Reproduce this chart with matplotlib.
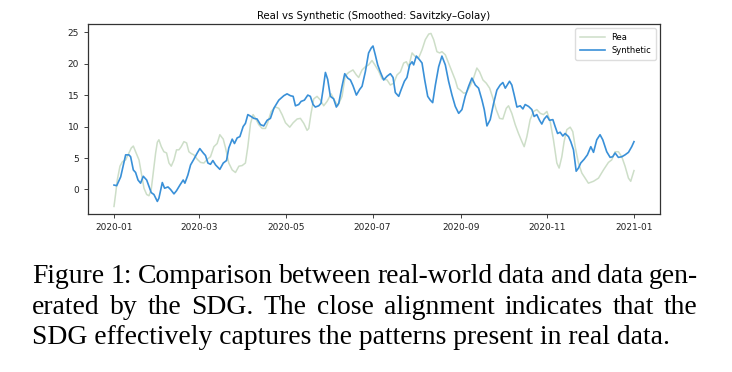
import numpy as np
import pandas as pd
import matplotlib
matplotlib.use("Agg")
import matplotlib.pyplot as plt
import matplotlib.dates as mdates

# ---------------------------------------------------------------------------
# DATA — days since 2020-01-01
# ---------------------------------------------------------------------------
START = "2020-01-01"

real_day = [0, 1.2, 2.3, 4.2, 5.9, 8.2, 10.5, 12.2, 13.6, 15.2, 17.6, 19.2, 21.1, 23.0, 24.6,
            26.2, 27.6, 29.3, 30.5, 31.6, 33.3, 35.1, 37.0, 38.7, 40.3, 42.2, 44.0, 45.7, 47.3,
            49.2, 51.1, 52.7, 54.4, 56.2, 58.6, 60.9, 63.3, 65.6, 67.9, 70.3, 72.6, 74.5, 76.9,
            78.5, 80.8, 83.2, 85.5, 87.9, 90.2, 92.5, 94.2, 96.1, 97.9, 99.6, 101.9, 104.3,
            106.6, 108.2, 110.6, 113.6, 116.0, 118.3, 120.7, 123.7, 126.1, 128.9, 131.2, 133.6,
            135.9, 137.1, 138.7, 140.6, 142.9, 145.3, 147.6, 150.0, 152.8, 155.1, 157.5, 160.5,
            162.8, 165.2, 168.2, 170.6, 172.2, 174.6, 176.9, 179.2, 181.6, 183.9, 186.3, 188.6,
            192.2, 194.5, 196.9, 199.2, 201.6, 203.9, 205.8, 207.4, 209.8, 212.1, 214.4, 216.8,
            219.1, 221.5, 223.1, 225.0, 227.3, 229.2, 230.8, 233.2, 235.5, 237.9, 240.2, 241.9,
            243.7, 246.1, 248.0, 250.3, 252.6, 255.4, 257.3, 259.7, 262.0, 264.4, 266.7, 269.0,
            271.4, 273.7, 276.1, 277.7, 280.0, 282.4, 284.7, 287.1, 288.7, 290.6, 292.9, 295.3,
            297.6, 300.0, 302.3, 304.7, 307.0, 309.3, 311.7, 313.3, 315.2, 316.8, 318.7, 321.1,
            322.9, 324.6, 326.9, 329.3, 331.6, 333.9, 337.5, 341.0, 344.5, 348.0, 350.3, 352.7,
            355.0, 357.4, 359.7, 362.1, 363.7, 366.0]
real_val = [-2.7, -0.6, 1.5, 3.7, 4.4, 4.7, 5.8, 6.6, 6.9, 6.0, 4.7, 2.6, 0.2, -0.8, -1.0,
            0.0, 2.6, 5.8, 7.5, 7.9, 6.8, 6.0, 5.8, 4.2, 3.7, 4.7, 6.3, 6.3, 6.8,
            7.6, 7.4, 6.0, 5.7, 5.5, 4.8, 4.3, 4.2, 4.8, 5.2, 6.8, 7.3, 8.7, 8.0,
            6.6, 4.2, 3.1, 2.7, 3.7, 3.8, 4.2, 6.8, 10.5, 11.9, 11.3, 10.3, 9.7,
            9.7, 10.6, 12.4, 13.1, 12.9, 11.9, 10.6, 9.9, 10.6, 11.2, 11.3, 10.5,
            9.4, 9.7, 12.1, 14.4, 14.8, 14.2, 13.3, 14.0, 15.2, 14.2, 13.3, 14.8,
            18.1, 18.6, 19.0, 18.2, 17.8, 19.0, 19.5, 19.8, 20.5, 19.7, 18.8, 17.6,
            17.4, 16.6, 16.9, 18.2, 18.7, 20.1, 20.3, 19.5, 21.7, 21.1, 20.9, 22.2,
            23.8, 24.7, 24.8, 23.8, 21.9, 21.7, 21.9, 21.4, 20.1, 18.7, 17.4, 16.1,
            15.8, 15.3, 15.4, 16.3, 17.4, 19.3, 18.7, 17.4, 16.9, 16.1, 14.5, 12.7,
            11.3, 11.2, 12.9, 13.3, 12.1, 10.3, 8.9, 7.6, 6.8, 8.4, 11.1, 12.4,
            12.7, 12.1, 11.9, 12.4, 10.8, 7.9, 4.2, 3.4, 5.2, 7.6, 9.5, 9.9,
            9.2, 6.8, 4.2, 2.6, 1.8, 1.0, 1.3, 1.8, 3.1, 4.3, 4.7, 6.0,
            6.0, 5.2, 3.7, 1.8, 1.3, 3.0]

syn_day = [0, 1.9, 4.7, 8.2, 10.5, 11.7, 13.6, 15.2, 16.9, 18.7, 20.6, 23.0, 24.6, 26.2, 28.1,
           30.5, 31.6, 34.0, 35.6, 38.0, 39.8, 42.2, 44.0, 46.4, 48.7, 49.9, 52.0, 53.9, 56.2,
           58.6, 60.4, 62.8, 64.4, 66.1, 67.9, 69.6, 71.5, 74.5, 76.9, 79.2, 80.8, 83.2, 84.8,
           86.7, 88.6, 90.9, 92.5, 94.2, 96.5, 98.4, 100.7, 103.1, 105.4, 107.8, 110.1, 112.5,
           116.0, 119.5, 121.8, 124.2, 126.1, 127.7, 130.0, 131.7, 134.0, 136.4, 138.2, 140.1,
           141.7, 144.1, 145.7, 147.1, 148.8, 150.4, 152.3, 154.6, 156.5, 158.2, 160.5, 162.4,
           164.5, 166.4, 168.2, 170.6, 172.9, 174.6, 176.9, 179.2, 181.1, 182.3, 183.9, 185.6,
           187.4, 189.8, 192.2, 194.5, 196.4, 198.0, 200.4, 202.0, 204.4, 206.2, 208.1, 209.8,
           210.9, 212.8, 215.1, 216.8, 218.7, 220.8, 222.6, 224.3, 226.2, 228.5, 230.8, 233.2,
           235.5, 237.9, 240.2, 242.6, 244.9, 247.2, 249.6, 251.9, 254.3, 256.6, 259.0, 260.6,
           262.5, 264.8, 267.2, 269.5, 271.8, 273.7, 275.4, 276.5, 278.4, 280.0, 281.7, 283.6,
           285.9, 287.8, 289.4, 291.8, 294.1, 295.7, 297.6, 299.5, 301.1, 302.8, 304.7, 306.5,
           308.9, 310.5, 312.2, 314.0, 315.9, 317.5, 319.9, 321.5, 323.4, 325.3, 326.9, 328.5,
           330.9, 333.2, 335.6, 337.5, 339.8, 342.1, 344.0, 346.8, 349.2, 351.0, 352.7, 355.0,
           357.4, 359.7, 362.1, 364.4, 366.0]
syn_val = [0.7, 0.6, 2.0, 5.5, 5.5, 5.2, 3.1, 2.7, 1.5, 1.0, 2.1, 1.5, 0.5, -0.5, -0.8,
           -1.9, -1.4, 1.1, 0.2, 0.4, 0.0, -0.7, -0.2, 0.7, 1.5, 1.0, 2.3, 3.9, 4.8,
           5.8, 6.5, 5.8, 5.4, 4.2, 4.0, 4.6, 3.9, 3.2, 4.2, 4.6, 6.6, 8.0, 7.3,
           8.2, 8.4, 10.0, 10.5, 11.9, 11.6, 11.3, 11.2, 10.3, 10.1, 11.0, 11.3, 12.9,
           14.2, 14.9, 15.2, 14.9, 14.8, 13.3, 13.5, 14.0, 14.2, 15.0, 14.8, 13.5,
           13.1, 13.3, 13.7, 15.8, 18.6, 17.5, 14.8, 14.4, 13.1, 13.7, 16.4, 18.4,
           17.7, 17.4, 16.5, 15.0, 15.9, 16.4, 18.7, 21.7, 22.5, 22.8, 21.4, 19.8,
           18.7, 17.4, 18.0, 18.4, 17.8, 15.4, 14.8, 15.8, 17.2, 17.8, 19.8, 20.3,
           19.8, 21.2, 20.6, 20.1, 17.4, 14.8, 14.2, 13.8, 16.6, 19.5, 21.2, 19.8,
           17.2, 15.0, 13.2, 12.1, 12.7, 14.8, 16.4, 17.7, 16.6, 16.1, 14.2, 12.7,
           10.1, 11.1, 13.7, 15.8, 16.6, 17.0, 16.1, 16.5, 17.2, 16.6, 15.0, 13.1,
           13.3, 12.8, 13.5, 13.2, 12.7, 11.6, 11.9, 11.0, 10.4, 11.2, 11.7, 11.0,
           11.1, 10.0, 8.9, 9.1, 8.5, 8.9, 8.4, 7.6, 6.3, 2.9, 3.4, 4.2,
           4.8, 5.5, 6.8, 5.9, 7.9, 8.7, 7.9, 6.0, 5.1, 5.2, 5.8, 5.1,
           5.2, 5.5, 5.9, 6.8, 7.6]

TITLE = "Real vs Synthetic (Smoothed: Savitzky\u2013Golay)"
LABELS = ["Rea", "Synthetic"]
CAPTION = [
    "Figure 1: Comparison between real-world data and data gen-",
    "erated by the SDG. The close alignment indicates that the",
    "SDG effectively captures the patterns present in real data.",
]

W, H = 732, 372


def to_dates(days):
    return pd.Timestamp(START) + pd.to_timedelta(np.asarray(days), unit="D")


fig = plt.figure(figsize=(W / 100, H / 100), dpi=100)
ax = fig.add_axes([88 / W, 1 - 214 / H, (660 - 88) / W, (214 - 24) / H])

ax.plot(to_dates(real_day), real_val, color="#cddec8", lw=1.1, label=LABELS[0])
ax.plot(to_dates(syn_day), syn_val, color="#3990d8", lw=1.2, label=LABELS[1])

ax.set_ylim(-3.9, 26.3)
ax.set_yticks([0, 5, 10, 15, 20, 25])
ax.xaxis.set_major_locator(mdates.MonthLocator(bymonth=[1, 3, 5, 7, 9, 11]))
ax.xaxis.set_major_formatter(mdates.DateFormatter("%Y-%m"))
ax.tick_params(labelsize=6.5, length=3, width=0.6, colors="#222222")
for sp in ax.spines.values():
    sp.set_linewidth(0.9)
    sp.set_color("#333333")
ax.set_title(TITLE, fontsize=7.3, pad=3.5)
leg = ax.legend(loc="upper right", fontsize=6, handlelength=3.0,
                borderpad=0.55, labelspacing=0.55, framealpha=1, edgecolor="#dddddd")

# caption: two justified lines, last line natural spacing
CAP_FONT = dict(family="Liberation Serif", fontsize=19.9, color="black")
left_px, right_px = 32, 698
baselines = [283, 313.5, 344]
renderer = fig.canvas.get_renderer()
for i, (line, base) in enumerate(zip(CAPTION, baselines)):
    y = 1 - base / H
    if i == len(CAPTION) - 1:
        fig.text(left_px / W, y, line, va="baseline", ha="left", **CAP_FONT)
        continue
    words = line.split(" ")
    widths = []
    for w in words:
        t = fig.text(0, 0, w, **CAP_FONT)
        widths.append(t.get_window_extent(renderer).width)
        t.remove()
    gap = (right_px - left_px - sum(widths)) / (len(words) - 1)
    x = left_px
    for w, wd in zip(words, widths):
        fig.text(x / W, y, w, va="baseline", ha="left", **CAP_FONT)
        x += wd + gap

fig.savefig("out.png", dpi=100)
